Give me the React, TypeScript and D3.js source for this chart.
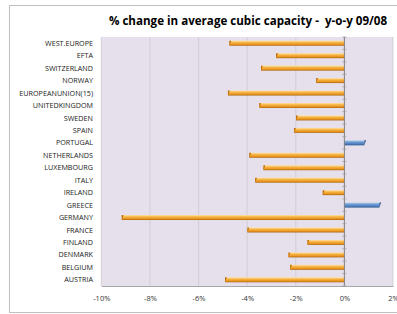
import React, { useEffect, useRef } from "react";
import * as d3 from "d3";

const categories = [
  "WEST.EUROPE", "EFTA", "SWITZERLAND", "NORWAY", "EUROPEANUNION(15)",
  "UNITEDKINGDOM", "SWEDEN", "SPAIN", "PORTUGAL", "NETHERLANDS",
  "LUXEMBOURG", "ITALY", "IRELAND", "GREECE", "GERMANY",
  "FRANCE", "FINLAND", "DENMARK", "BELGIUM", "AUSTRIA",
];
const changes = [
  -4.73, -2.81, -3.43, -1.16, -4.79,
  -3.5, -1.99, -2.07, 0.82, -3.91,
  -3.33, -3.67, -0.89, 1.44, -9.16,
  -3.99, -1.52, -2.3, -2.23, -4.91,
];
const xTicks = [-10, -8, -6, -4, -2, 0, 2];
const title = "% change in average cubic capacity -  y-o-y 09/08";

const App = () => {
  const ref = useRef<SVGSVGElement>(null);

  useEffect(() => {
    const svg = d3.select(ref.current);
    svg.selectAll("*").remove();

    const left = 101.3, right = 393, top = 37, bottom = 286;
    const font = "Open Sans, Liberation Sans, sans-serif";

    const x = d3.scaleLinear().domain([-10, 2]).range([left, right]);
    const y = d3.scaleBand().domain(categories).range([top, bottom]);

    const defs = svg.append("defs");
    const grad = (id, stops) => {
      const g = defs.append("linearGradient").attr("id", id)
        .attr("x1", 0).attr("y1", 0).attr("x2", 0).attr("y2", 1);
      stops.forEach(([o, c]) => g.append("stop").attr("offset", o).attr("stop-color", c));
    };
    grad("neg", [[0, "#FFE3A8"], [0.35, "#F7B548"], [0.75, "#E8941C"], [1, "#A9620C"]]);
    grad("pos", [[0, "#B9D2EE"], [0.35, "#6F9BD2"], [0.75, "#4A7DBE"], [1, "#2E5688"]]);

    // chart frame
    svg.append("rect").attr("x", 9.5).attr("y", 5.5).attr("width", 395).attr("height", 307)
      .attr("fill", "#fff").attr("stroke", "#BFBFBF");

    // plot area
    svg.append("rect").attr("x", left).attr("y", top).attr("width", right - left).attr("height", bottom - top)
      .attr("fill", "#E6E0EC");

    // grid
    svg.append("g").selectAll("line").data(xTicks.filter(d => d !== 0)).join("line")
      .attr("x1", d => x(d)).attr("x2", d => x(d)).attr("y1", top).attr("y2", bottom)
      .attr("stroke", "#C8C4CC").attr("stroke-width", 0.7);

    // x axis
    const xAxis = d3.axisBottom(x).tickValues(xTicks).tickSize(0).tickPadding(10)
      .tickFormat(d => `${d}%`);
    const gx = svg.append("g").attr("transform", `translate(0,${bottom})`).call(xAxis);
    gx.select(".domain").attr("stroke", "#A6A6A6");
    gx.selectAll("text").attr("font-family", font).attr("font-size", 7.5).attr("fill", "#333");

    // y labels
    svg.append("g").selectAll("text").data(categories).join("text")
      .attr("x", 93).attr("y", d => y(d) + y.bandwidth() / 2 + 2.6)
      .attr("text-anchor", "end").attr("font-family", font).attr("font-size", 7.2)
      .attr("fill", "#222").text(d => d);

    // bars
    const bh = 5;
    const data = categories.map((c, i) => ({ c, v: changes[i] }));
    svg.append("g").selectAll("rect").data(data).join("rect")
      .attr("x", d => x(Math.min(0, d.v)))
      .attr("y", d => y(d.c) + y.bandwidth() / 2 - bh / 2)
      .attr("width", d => Math.abs(x(d.v) - x(0)))
      .attr("height", bh)
      .attr("fill", d => (d.v < 0 ? "url(#neg)" : "url(#pos)"));

    // end caps
    svg.append("g").selectAll("path").data(data).join("path")
      .attr("d", d => {
        const cx = x(d.v), cy = y(d.c) + y.bandwidth() / 2;
        return `M${cx},${cy - bh / 2} L${cx + 1.8},${cy - bh / 2} L${cx},${cy + bh / 2} Z`;
      })
      .attr("fill", d => (d.v < 0 ? "#B86A0C" : "#2E5688"));

    // zero axis with ticks
    svg.append("line").attr("x1", x(0)).attr("x2", x(0)).attr("y1", top).attr("y2", bottom)
      .attr("stroke", "#7F7F7F").attr("stroke-width", 1);
    svg.append("g").selectAll("line").data(d3.range(categories.length + 1)).join("line")
      .attr("x1", x(0) - 2).attr("x2", x(0) + 2)
      .attr("y1", i => top + i * y.step()).attr("y2", i => top + i * y.step())
      .attr("stroke", "#9F9F9F").attr("stroke-width", 0.8);

    // title
    svg.append("text").attr("x", 248).attr("y", 25).attr("text-anchor", "middle")
      .attr("font-family", font).attr("font-weight", "bold").attr("font-size", 11.6)
      .style("white-space", "pre")
      .attr("fill", "#000").text(title);
  }, []);

  return (
    <svg ref={ref} width={397} height={314} style={{ position: "absolute", left: 0, top: 0 }} />
  );
};

export default App;
